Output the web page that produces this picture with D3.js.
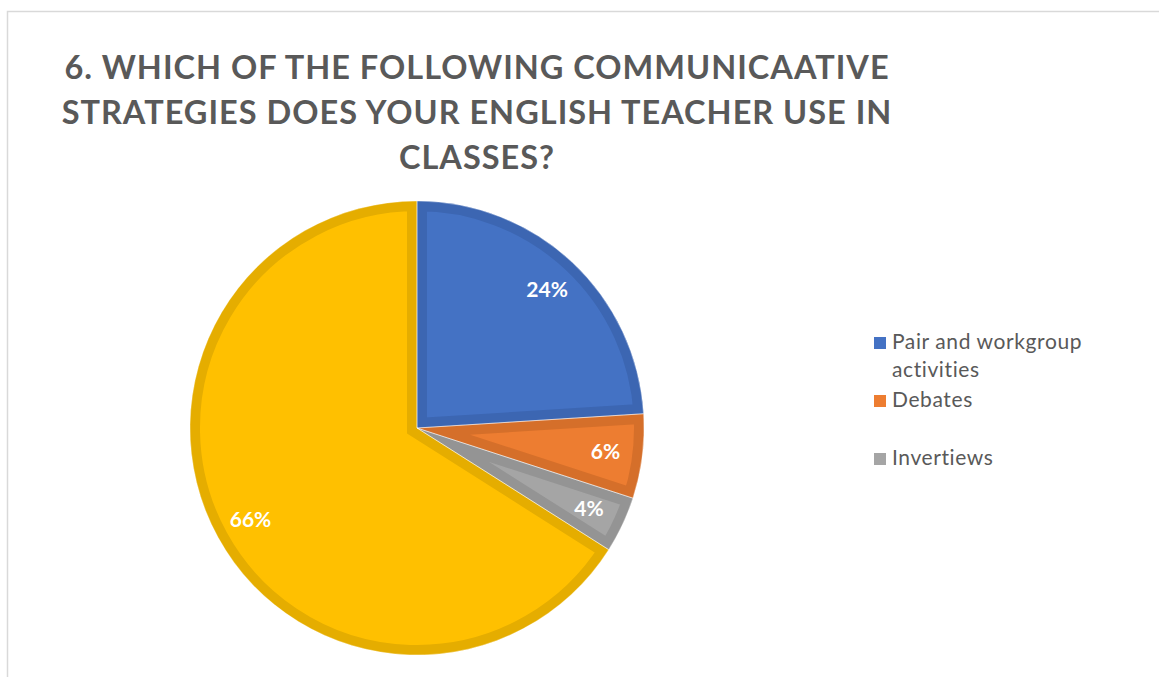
<!DOCTYPE html>
<html>
<head>
<meta charset="utf-8">
<script src="https://cdn.jsdelivr.net/npm/d3@7/dist/d3.min.js"></script>
<style>
  html, body { margin: 0; padding: 0; background: #fff; }
  svg { display: block; }
</style>
</head>
<body>
<svg id="chart" width="1159" height="677"></svg>
<script>
// Survey answers (share of students, %)
const categories = ["Pair and workgroup activities", "Debates", "Invertiews", "Other"];
const values = [24, 6, 4, 66];
const fillColors = ["#4472C4", "#ED7D31", "#A5A5A5", "#FFC000"];
const edgeColors = ["#3C66B2", "#D56F2A", "#949494", "#E5AD00"];
const legendItems = ["Pair and workgroup activities", "Debates", "Invertiews"];
const legendLines = [["Pair and workgroup", "activities"], ["Debates"], ["Invertiews"]];
const titleLines = [
  "6. WHICH OF THE FOLLOWING COMMUNICAATIVE",
  "STRATEGIES DOES YOUR ENGLISH TEACHER USE IN",
  "CLASSES?"
];

const svg = d3.select("#chart");
const W = 1159, H = 677;

// chart area frame (top and left edges visible)
svg.append("path")
  .attr("d", `M7.5,${H} L7.5,11.5 L${W},11.5`)
  .attr("fill", "none")
  .attr("stroke", "#D9D9D9")
  .attr("stroke-width", 1.5);

// title
const title = svg.append("text")
  .attr("text-anchor", "middle")
  .attr("font-family", "Lato, 'Open Sans', sans-serif")
  .attr("font-weight", "bold")
  .attr("font-size", 32.5)
  .attr("letter-spacing", 1.0)
  .attr("fill", "#595959");
title.selectAll("tspan")
  .data(titleLines)
  .join("tspan")
  .attr("x", 477)
  .attr("y", (d, i) => 79 + i * 45)
  .text(d => d);

// pie
const cx = 417, cy = 428, R = 227, edge = 10;
const pie = d3.pie().sort(null).value(d => d);
const arcs = pie(values);
const arc = d3.arc().innerRadius(0).outerRadius(R);
const labelArc = d3.arc().innerRadius(190).outerRadius(190);

const g = svg.append("g").attr("transform", `translate(${cx},${cy})`);
const defs = svg.append("defs");
arcs.forEach((a, i) => {
  defs.append("clipPath").attr("id", "slice-clip-" + i)
    .append("path").attr("d", arc(a));
});

g.selectAll("path.slice")
  .data(arcs)
  .join("path")
  .attr("class", "slice")
  .attr("d", arc)
  .attr("fill", (d, i) => fillColors[i])
  .attr("stroke", (d, i) => edgeColors[i])
  .attr("stroke-width", edge * 2)
  .attr("stroke-linejoin", "miter")
  .attr("clip-path", (d, i) => `url(#slice-clip-${i})`);

// thin light seams between slices
g.selectAll("path.seam")
  .data(arcs)
  .join("path")
  .attr("class", "seam")
  .attr("d", arc)
  .attr("fill", "none")
  .attr("stroke", "#ffffff")
  .attr("stroke-opacity", 0.5)
  .attr("stroke-width", 0.8);

// data labels
g.selectAll("text.value")
  .data(arcs)
  .join("text")
  .attr("class", "value")
  .attr("transform", d => `translate(${labelArc.centroid(d)})`)
  .attr("text-anchor", "middle")
  .attr("dy", "0.35em")
  .attr("font-family", "Lato, 'Open Sans', sans-serif")
  .attr("font-weight", "bold")
  .attr("font-size", 21)
  .attr("fill", "#ffffff")
  .text(d => d.data + "%");

// legend
const legendY = d3.scalePoint().domain(legendItems).range([349, 465]);
const lg = svg.append("g").attr("font-family", "Lato, 'Open Sans', sans-serif");
const rows = lg.selectAll("g.row")
  .data(legendItems)
  .join("g")
  .attr("class", "row")
  .attr("transform", d => `translate(874,${legendY(d)})`);
rows.append("rect")
  .attr("x", 0).attr("y", -12)
  .attr("width", 12).attr("height", 12)
  .attr("fill", d => fillColors[categories.indexOf(d)]);
rows.each(function(d, i) {
  d3.select(this).selectAll("text")
    .data(legendLines[i])
    .join("text")
    .attr("x", 18)
    .attr("y", (t, j) => j * 28)
    .attr("font-size", 21)
    .attr("letter-spacing", 0.6)
    .attr("fill", "#595959")
    .text(t => t);
});
</script>
</body>
</html>
